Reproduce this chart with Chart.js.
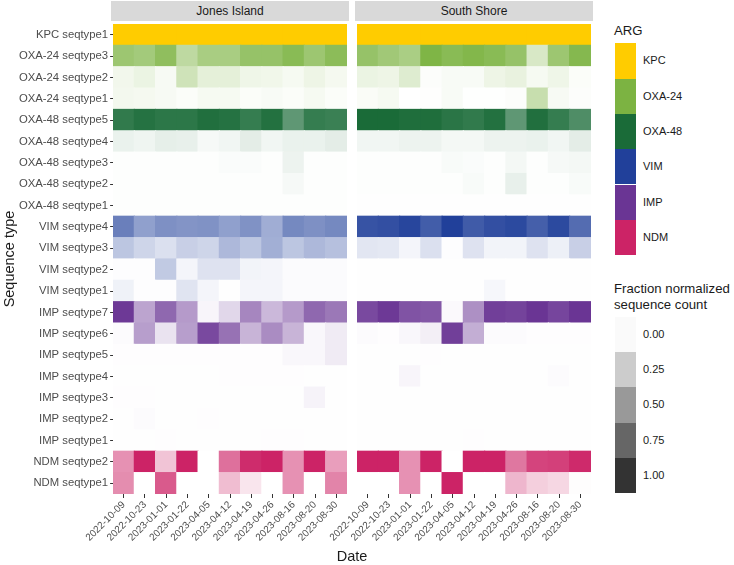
<!DOCTYPE html>
<html>
<head>
<meta charset="utf-8">
<script src="https://cdn.jsdelivr.net/npm/chart.js@4.4.1/dist/chart.umd.min.js"></script>
<style>
  body { margin: 0; background: #fff; font-family: "Liberation Sans", Arial, sans-serif; }
  #wrap { position: relative; width: 734px; height: 565px; overflow: hidden; }
  canvas { position: absolute; top: 0; }
  .strip { position: absolute; top: 1px; height: 20px; line-height: 20px; background: #d9d9d9;
           color: #1a1a1a; font-size: 12px; text-align: center; }
  .title { position: absolute; color: #1a1a1a; font-size: 14.5px; white-space: nowrap; }
  .ltitle { position: absolute; color: #1a1a1a; font-size: 13.2px; white-space: nowrap; line-height: 16px; }
  .key { position: absolute; left: 615px; width: 21px; }
  .klab { position: absolute; left: 643px; font-size: 11px; color: #1a1a1a; }
</style>
</head>
<body>
<div id="wrap">
  <canvas id="jones" width="352" height="565" style="left:0"></canvas>
  <canvas id="south" width="304" height="565" style="left:292px"></canvas>
  <div class="strip" style="left:111px;width:238px">Jones Island</div>
  <div class="strip" style="left:355px;width:238px">South Shore</div>
  <div class="title" style="left:322px;top:548px;width:60px;text-align:center;">Date</div>
  <div id="legend"></div>
</div>
<script>
const dates = ["2022-10-09", "2022-10-23", "2023-01-01", "2023-01-22", "2023-04-05", "2023-04-12",
  "2023-04-19", "2023-04-26", "2023-08-16", "2023-08-20", "2023-08-30"];

// top to bottom as in the picture
const seqTypes = ["KPC seqtype1", "OXA-24 seqtype3", "OXA-24 seqtype2", "OXA-24 seqtype1",
  "OXA-48 seqtype5", "OXA-48 seqtype4", "OXA-48 seqtype3", "OXA-48 seqtype2", "OXA-48 seqtype1",
  "VIM seqtype4", "VIM seqtype3", "VIM seqtype2", "VIM seqtype1",
  "IMP seqtype7", "IMP seqtype6", "IMP seqtype5", "IMP seqtype4", "IMP seqtype3", "IMP seqtype2", "IMP seqtype1",
  "NDM seqtype2", "NDM seqtype1"];

const argNames = ["KPC", "OXA-24", "OXA-48", "VIM", "IMP", "NDM"];
const argColors = ["#FFCC00", "#7CB342", "#1A6B38", "#21409A", "#6A3594", "#CC2366"];
const fractionTicks = [0, 0.25, 0.5, 0.75, 1];

// fraction normalized sequence count, one row per sequence type, one value per date
const jonesIsland = [
  [1, 1, 1, 1, 1, 1, 1, 1, 1, 1, 1],
  [0.75, 0.7, 0.85, 0.5, 0.66, 0.66, 0.8, 0.8, 0.9, 0.75, 0.88],
  [0.1, 0.15, 0.06, 0.37, 0.2, 0.2, 0.12, 0.11, 0.07, 0.13, 0.08],
  [0.09, 0.08, 0.06, 0.03, 0.07, 0.07, 0.03, 0.05, 0.03, 0.07, 0.03],
  [0.9, 0.95, 0.92, 0.92, 0.97, 0.95, 0.88, 0.96, 0.7, 0.88, 0.86],
  [0.09, 0.07, 0.11, 0.1, 0.04, 0.06, 0.12, 0.06, 0.09, 0.09, 0.12],
  [0.01, 0.01, 0.01, 0.01, 0.01, 0.02, 0.02, 0.01, 0.08, 0.01, 0.01],
  [0.01, 0.01, 0.01, 0.01, 0.01, 0.01, 0.01, 0.01, 0.04, 0.01, 0.01],
  [0.01, 0.01, 0.01, 0.01, 0.01, 0.01, 0.01, 0.01, 0.01, 0.01, 0.01],
  [0.67, 0.5, 0.58, 0.56, 0.57, 0.5, 0.57, 0.43, 0.62, 0.58, 0.62],
  [0.3, 0.22, 0.16, 0.25, 0.22, 0.37, 0.3, 0.42, 0.3, 0.37, 0.33],
  [0.01, 0.01, 0.28, 0.05, 0.15, 0.15, 0.06, 0.05, 0.02, 0.02, 0.02],
  [0.07, 0.01, 0.01, 0.14, 0.05, 0.005, 0.05, 0.05, 0.02, 0.02, 0.02],
  [0.98, 0.45, 0.75, 0.5, 0.05, 0.2, 0.6, 0.35, 0.5, 0.75, 0.67],
  [0.02, 0.48, 0.14, 0.48, 0.9, 0.7, 0.37, 0.57, 0.37, 0.04, 0.1],
  [0.01, 0.01, 0.01, 0.01, 0.01, 0.01, 0.01, 0.01, 0.04, 0.04, 0.1],
  [0.005, 0.005, 0.005, 0.005, 0.005, 0.01, 0.01, 0.01, 0.01, 0.005, 0.005],
  [0.01, 0.01, 0.005, 0.005, 0.005, 0.005, 0.005, 0.005, 0.005, 0.06, 0.005],
  [0.005, 0.02, 0.005, 0.005, 0.01, 0.005, 0.005, 0.005, 0.005, 0.005, 0.005],
  [0.005, 0.005, 0.01, 0.005, 0.005, 0.005, 0.005, 0.01, 0.01, 0.005, 0.005],
  [0.5, 1, 0.27, 1, 0, 0.65, 0.96, 1, 0.5, 1, 0.44],
  [0.52, 0, 0.75, 0, 0, 0.3, 0.12, 0, 0.5, 0, 0.56]
];

const southShore = [
  [1, 1, 1, 1, 1, 1, 1, 1, 1, 1, 1],
  [0.8, 0.72, 0.65, 0.98, 0.9, 0.95, 0.9, 0.8, 0.3, 0.75, 0.93],
  [0.15, 0.13, 0.25, 0.02, 0.05, 0.05, 0.13, 0.17, 0.07, 0.12, 0.03],
  [0.04, 0.07, 0, 0.01, 0.05, 0.005, 0.005, 0.02, 0.43, 0.06, 0.02],
  [1, 1, 0.98, 0.98, 0.93, 0.9, 0.96, 0.7, 0.97, 0.88, 0.77],
  [0.06, 0.06, 0.08, 0.08, 0.05, 0.05, 0.08, 0.08, 0.09, 0.06, 0.12],
  [0.01, 0.01, 0.01, 0.01, 0.03, 0.02, 0.01, 0.05, 0.01, 0.04, 0.05],
  [0.01, 0.01, 0.01, 0.01, 0.01, 0.03, 0.01, 0.1, 0.01, 0.01, 0.03],
  [0.005, 0.005, 0.005, 0.005, 0.005, 0.005, 0.005, 0.005, 0.005, 0.005, 0.005],
  [0.9, 0.92, 0.97, 0.85, 1, 0.86, 0.92, 0.95, 0.84, 0.95, 0.77],
  [0.13, 0.12, 0.05, 0.16, 0.01, 0.15, 0.06, 0.06, 0.15, 0.08, 0.25],
  [0.005, 0.005, 0.005, 0.005, 0.005, 0.005, 0.005, 0.005, 0.005, 0.005, 0.005],
  [0.005, 0.005, 0.005, 0.005, 0.005, 0.005, 0.04, 0.005, 0.005, 0.005, 0.005],
  [0.9, 0.98, 0.85, 0.83, 0.03, 0.55, 0.95, 0.93, 1, 0.92, 1],
  [0.02, 0.01, 0.04, 0.08, 0.95, 0.4, 0.02, 0.02, 0.01, 0.01, 0.01],
  [0.005, 0.005, 0.005, 0.01, 0.005, 0.005, 0.005, 0.005, 0.005, 0.005, 0.005],
  [0.005, 0.005, 0.05, 0.005, 0.005, 0.005, 0.005, 0.005, 0.005, 0.02, 0.005],
  [0.005, 0.005, 0.005, 0.005, 0.005, 0.005, 0.005, 0.005, 0.005, 0.005, 0.005],
  [0.005, 0.005, 0.005, 0.005, 0.005, 0.005, 0.005, 0.005, 0.005, 0.005, 0.005],
  [0.005, 0.005, 0.005, 0.005, 0.005, 0.01, 0.005, 0.005, 0.005, 0.005, 0.005],
  [1, 1, 0.5, 1, 0, 1, 1, 0.62, 0.85, 0.87, 0.97],
  [0, 0, 0.5, 0, 1, 0, 0, 0.33, 0.22, 0.18, 0.01]
];

// blend a colour onto white so neighbouring cells can overlap without seams
function onWhite(hex, a) {
  const n = parseInt(hex.slice(1), 16);
  const mix = c => Math.round(255 - (255 - c) * a);
  return `rgb(${mix(n >> 16)},${mix((n >> 8) & 255)},${mix(n & 255)})`;
}

function argColor(seq) {
  return argColors[argNames.indexOf(seq.split(" ")[0])];
}

const fontFamily = "'Liberation Sans', Arial, sans-serif";
const tickColor = "#4d4d4d";

function makeHeatmap(id, values, withLabels, padding) {
  // stacked bars: first dataset sits at the bottom, so walk the rows upward
  const datasets = seqTypes.map((seq, r) => ({
    label: seq,
    data: dates.map(() => 1),
    backgroundColor: values[r].map(v => onWhite(argColor(seq), v)),
    borderWidth: 0,
    inflateAmount: 0.6,
    stack: "cells",
    barPercentage: 1,
    categoryPercentage: 1
  })).reverse();

  const scales = {
    x: {
      stacked: true,
      offset: true,
      grid: { offset: false, drawOnChartArea: false, tickLength: 4, color: "#333" },
      border: { display: false },
      ticks: { autoSkip: false, maxRotation: 45, minRotation: 45, padding: 1, color: tickColor,
               font: { family: fontFamily, size: 10 } },
      afterFit: s => { s.height = 71; }
    },
    y: { stacked: true, min: 0, max: seqTypes.length, display: false }
  };
  if (withLabels) {
    scales.yLab = {
      type: "category",
      labels: seqTypes,
      position: "left",
      offset: true,
      grid: { offset: false, drawOnChartArea: false, tickLength: 3, color: "#333" },
      border: { display: false },
      ticks: { color: tickColor, font: { family: fontFamily, size: 11.3 }, padding: 2 },
      title: { display: true, text: "Sequence type", color: "#1a1a1a",
               font: { family: fontFamily, size: 14.5 }, padding: { top: 1, bottom: 0 } },
      afterFit: s => { s.width = 113.1; }
    };
  }

  new Chart(document.getElementById(id), {
    type: "bar",
    data: { labels: dates, datasets: datasets },
    options: {
      responsive: false,
      animation: false,
      layout: { padding: padding },
      scales: scales,
      plugins: { legend: { display: false } }
    }
  });
}

makeHeatmap("jones", jonesIsland, true, { left: 0, top: 24, right: 5.1, bottom: 0 });
makeHeatmap("south", southShore, false, { left: 65.1, top: 24, right: 5.1, bottom: 0 });

// legends
const legend = document.getElementById("legend");
let html = '<div class="ltitle" style="left:614px;top:23px;">ARG</div>';
argNames.forEach((name, i) => {
  const top = 43.3 + i * 35.3;
  html += `<div class="key" style="top:${top}px;height:35.3px;background:${argColors[i]}"></div>`;
  html += `<div class="klab" style="top:${top + 11}px">${name}</div>`;
});
html += '<div class="ltitle" style="left:614px;top:281px;">Fraction normalized<br>sequence count</div>';
fractionTicks.forEach((f, i) => {
  const top = 317 + i * 35.2;
  html += `<div class="key" style="top:${top}px;height:35.2px;background:${onWhite("#333333", Math.max(f, 0.025))}"></div>`;
  html += `<div class="klab" style="top:${top + 11}px">${f.toFixed(2)}</div>`;
});
legend.innerHTML = html;
</script>
</body>
</html>
